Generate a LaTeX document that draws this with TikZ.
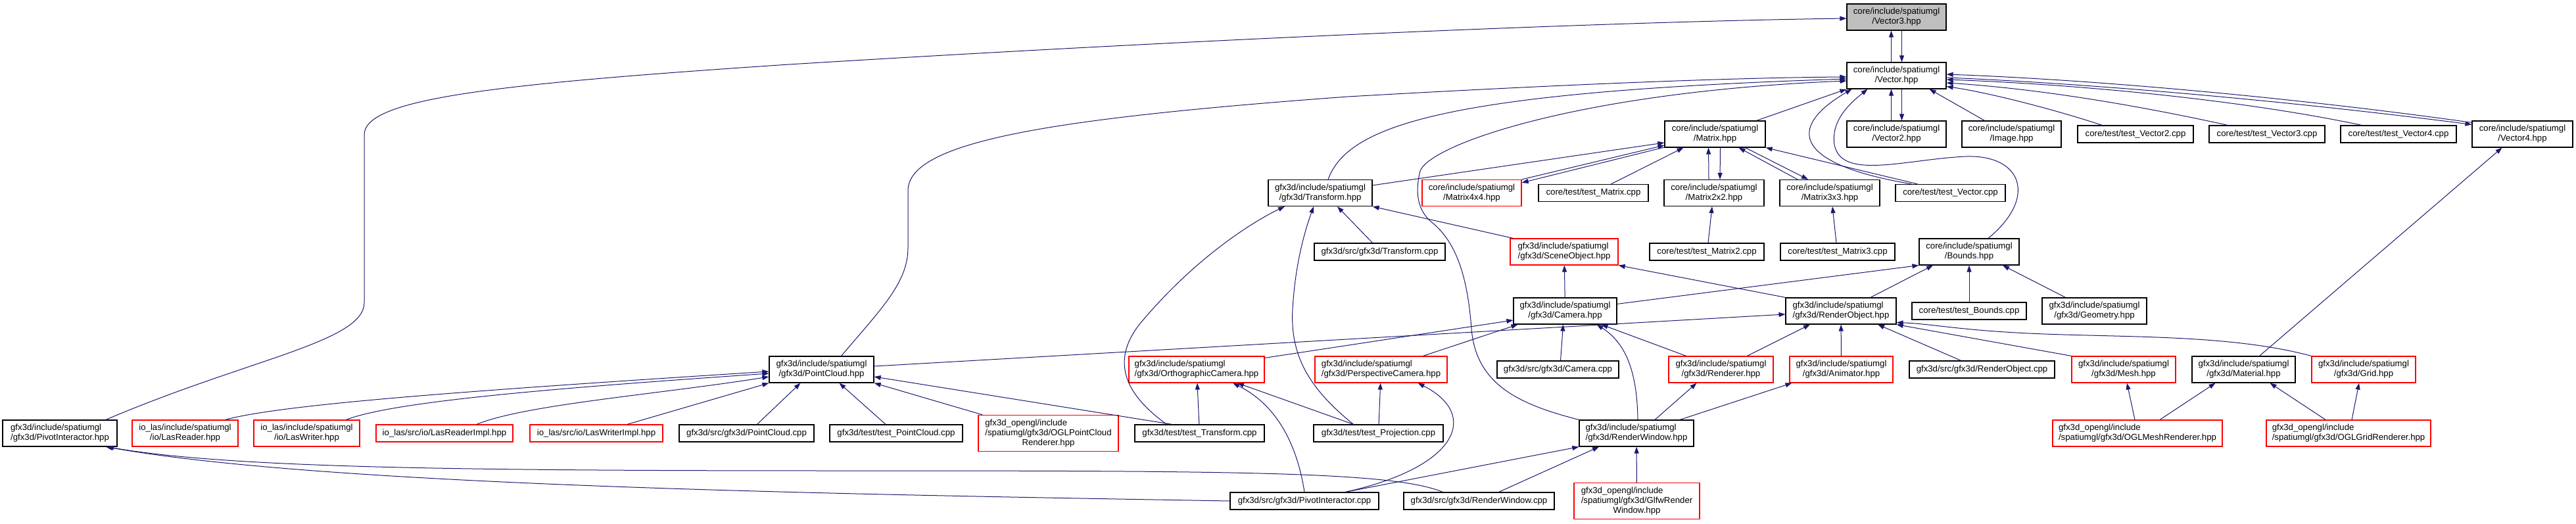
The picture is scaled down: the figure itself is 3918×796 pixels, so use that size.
\documentclass[tikz,border=0pt]{standalone}
\usepackage{xcolor}
\usepackage{fontspec}
\setmainfont{Liberation Sans}
\usepackage{tikz}
\usetikzlibrary{arrows.meta, positioning}
\definecolor{EdgeBlue}{HTML}{191970}
\definecolor{RootGray}{HTML}{BFBFBF}
\definecolor{NoDocRed}{HTML}{FF0000}
\newcommand{\fname}[2]{\begin{tabular}{@{}l@{}}#1\\\multicolumn{1}{@{}c@{}}{#2}\end{tabular}}

\begin{document}
\begin{tikzpicture}[
  x=1pt, y=-1pt,
  file/.style={rectangle, draw=black, fill=white, line width=1.2pt, inner sep=0pt,
               minimum height=40pt, font=\fontsize{13.2pt}{15pt}\selectfont},
  nodoc/.style={file, draw=NoDocRed},
  root/.style={file, fill=RootGray},
  one/.style={minimum height=26pt},
  three/.style={minimum height=55pt},
  arr/.style={-{Triangle[length=10pt,width=7pt]}, color=EdgeBlue, line width=1pt}
]
\useasboundingbox (0,0) rectangle (3918,796);

\node[root, minimum width=151pt] (vec3) at (2884.5,26) {\fname{core/include/spatiumgl}{/Vector3.hpp}};
\node[file, minimum width=151pt] (vec) at (2884.5,115) {\fname{core/include/spatiumgl}{/Vector.hpp}};

\node[file, minimum width=153pt] (mat) at (2608.5,204) {\fname{core/include/spatiumgl}{/Matrix.hpp}};
\node[file, minimum width=151pt] (vec2) at (2884.5,204) {\fname{core/include/spatiumgl}{/Vector2.hpp}};
\node[file, minimum width=151pt] (image) at (3059.5,204) {\fname{core/include/spatiumgl}{/Image.hpp}};
\node[file, one, minimum width=176pt] (tvec2) at (3248,204) {core/test/test\_Vector2.cpp};
\node[file, one, minimum width=176pt] (tvec3) at (3448,204) {core/test/test\_Vector3.cpp};
\node[file, one, minimum width=176pt] (tvec4) at (3648,204) {core/test/test\_Vector4.cpp};
\node[file, minimum width=153pt] (vec4) at (3836.5,204) {\fname{core/include/spatiumgl}{/Vector4.hpp}};

\node[file, minimum width=158pt] (trf) at (2008,293.5) {\fname{gfx3d/include/spatiumgl}{/gfx3d/Transform.hpp}};
\node[nodoc, minimum width=151pt] (mat44) at (2238.5,293.5) {\fname{core/include/spatiumgl}{/Matrix4x4.hpp}};
\node[file, one, minimum width=167pt] (tmat) at (2423.5,293.5) {core/test/test\_Matrix.cpp};
\node[file, minimum width=152pt] (mat22) at (2607,293.5) {\fname{core/include/spatiumgl}{/Matrix2x2.hpp}};
\node[file, minimum width=152pt] (mat33) at (2783,293.5) {\fname{core/include/spatiumgl}{/Matrix3x3.hpp}};
\node[file, one, minimum width=167pt] (tvec) at (2966.5,293.5) {core/test/test\_Vector.cpp};

\node[file, one, minimum width=199pt] (trfcpp) at (2098.5,383) {gfx3d/src/gfx3d/Transform.cpp};
\node[nodoc, minimum width=164pt] (sceneobj) at (2379,383) {\fname{gfx3d/include/spatiumgl}{/gfx3d/SceneObject.hpp}};
\node[file, one, minimum width=174pt] (tmat2) at (2596,383) {core/test/test\_Matrix2.cpp};
\node[file, one, minimum width=174pt] (tmat3) at (2795,383) {core/test/test\_Matrix3.cpp};
\node[file, minimum width=152pt] (bounds) at (2995,383) {\fname{core/include/spatiumgl}{/Bounds.hpp}};

\node[file, minimum width=157pt] (camera) at (2380.5,473) {\fname{gfx3d/include/spatiumgl}{/gfx3d/Camera.hpp}};
\node[file, minimum width=168pt] (renderobj) at (2800,473) {\fname{gfx3d/include/spatiumgl}{/gfx3d/RenderObject.hpp}};
\node[file, one, minimum width=174pt] (tbounds) at (2995,473) {core/test/test\_Bounds.cpp};
\node[file, minimum width=159pt] (geometry) at (3185.5,473) {\fname{gfx3d/include/spatiumgl}{/gfx3d/Geometry.hpp}};

\node[file, minimum width=159pt] (pointcloud) at (1249.5,562) {\fname{gfx3d/include/spatiumgl}{/gfx3d/PointCloud.hpp}};
\node[nodoc, minimum width=206pt] (orthocam) at (1820,562) {\fname{gfx3d/include/spatiumgl}{/gfx3d/OrthographicCamera.hpp}};
\node[nodoc, minimum width=201pt] (perspcam) at (2100.5,562) {\fname{gfx3d/include/spatiumgl}{/gfx3d/PerspectiveCamera.hpp}};
\node[file, one, minimum width=185pt] (cameracpp) at (2369.5,562) {gfx3d/src/gfx3d/Camera.cpp};
\node[nodoc, minimum width=159pt] (renderer) at (2617.5,562) {\fname{gfx3d/include/spatiumgl}{/gfx3d/Renderer.hpp}};
\node[nodoc, minimum width=157pt] (animator) at (2800.5,562) {\fname{gfx3d/include/spatiumgl}{/gfx3d/Animator.hpp}};
\node[file, one, minimum width=221pt] (renderobjcpp) at (3014.5,562) {gfx3d/src/gfx3d/RenderObject.cpp};
\node[nodoc, minimum width=158pt] (mesh) at (3230,562) {\fname{gfx3d/include/spatiumgl}{/gfx3d/Mesh.hpp}};
\node[file, minimum width=157pt] (material) at (3412.5,562) {\fname{gfx3d/include/spatiumgl}{/gfx3d/Material.hpp}};
\node[nodoc, minimum width=158pt] (grid) at (3595,562) {\fname{gfx3d/include/spatiumgl}{/gfx3d/Grid.hpp}};

\node[file, minimum width=174pt] (pivothpp) at (91,659) {\fname{gfx3d/include/spatiumgl}{/gfx3d/PivotInteractor.hpp}};
\node[nodoc, minimum width=161pt] (lasreader) at (281.5,659) {\fname{io\_las/include/spatiumgl}{/io/LasReader.hpp}};
\node[nodoc, minimum width=161pt] (laswriter) at (466.5,659) {\fname{io\_las/include/spatiumgl}{/io/LasWriter.hpp}};
\node[nodoc, one, minimum width=208pt] (lasreaderimpl) at (676,659) {io\_las/src/io/LasReaderImpl.hpp};
\node[nodoc, one, minimum width=202pt] (laswriterimpl) at (907,659) {io\_las/src/io/LasWriterImpl.hpp};
\node[file, one, minimum width=205pt] (pointcloudcpp) at (1135.5,659) {gfx3d/src/gfx3d/PointCloud.cpp};
\node[file, one, minimum width=202pt] (tpointcloud) at (1363,659) {gfx3d/test/test\_PointCloud.cpp};
\node[nodoc, three, minimum width=213pt] (oglpcrenderer) at (1594.5,659) {\fname{gfx3d\_opengl/include\\/spatiumgl/gfx3d/OGLPointCloud}{Renderer.hpp}};
\node[file, one, minimum width=197pt] (ttransform) at (1824.5,659) {gfx3d/test/test\_Transform.cpp};
\node[file, one, minimum width=197pt] (tprojection) at (2096.5,659) {gfx3d/test/test\_Projection.cpp};
\node[file, minimum width=174pt] (renderwin) at (2489,659) {\fname{gfx3d/include/spatiumgl}{/gfx3d/RenderWindow.hpp}};
\node[nodoc, minimum width=258pt] (oglmeshrenderer) at (3251,659) {\fname{gfx3d\_opengl/include}{/spatiumgl/gfx3d/OGLMeshRenderer.hpp}};
\node[nodoc, minimum width=250pt] (oglgridrenderer) at (3572,659) {\fname{gfx3d\_opengl/include}{/spatiumgl/gfx3d/OGLGridRenderer.hpp}};

\node[file, one, minimum width=226pt] (pivotcpp) at (1984,762) {gfx3d/src/gfx3d/PivotInteractor.cpp};
\node[file, one, minimum width=229pt] (renderwincpp) at (2249.5,762) {gfx3d/src/gfx3d/RenderWindow.cpp};
\node[nodoc, three, minimum width=191pt] (glfwwin) at (2489.5,762) {\fname{gfx3d\_opengl/include\\/spatiumgl/gfx3d/GlfwRender}{Window.hpp}};

\draw[arr] ([xshift=-8pt]vec.north) -- ([xshift=-8pt]vec3.south);
\draw[arr] ([xshift=8pt]vec3.south) -- ([xshift=8pt]vec.north);
\draw[arr] ([xshift=-8pt]vec2.north) -- ([xshift=-8pt]vec.south);
\draw[arr] ([xshift=8pt]vec.south) -- ([xshift=8pt]vec2.north);
\draw[arr] ([xshift=70pt]pivothpp.north) .. controls (380,545) and (554,520) .. (554,460) -- (554,205)
  .. controls (554,150) and (750,128) .. (1200,98) .. controls (1900,55) and (2500,32) .. ([yshift=-2pt]vec3.west);
\draw[arr] ([xshift=30pt]pointcloud.north) .. controls (1340,470) and (1381,430) .. (1381,377) -- (1381,290)
  .. controls (1381,215) and (1600,180) .. (2050,147) .. controls (2400,127) and (2650,118) .. ([yshift=-2pt]vec.west);
\draw[arr] ([xshift=12pt]trf.north) .. controls (2050,190) and (2200,140) .. ([yshift=-5pt]vec.west);
\draw[arr] (renderwin.north west) .. controls (2310,615) and (2245,585) .. (2238,500)
  .. controls (2232,420) and (2215,370) .. (2180,340) .. controls (2160,325) and (2150,300) .. (2160,260)
  .. controls (2175,220) and (2400,140) .. ([yshift=-8pt]vec.west);
\draw[arr] ([xshift=-14pt]mat.north east) -- (vec.south west);
\draw[arr] ([xshift=25pt]tvec.north west) .. controls (2730,250) and (2715,195) .. ([xshift=-68pt]vec.south);
\draw[arr] ([xshift=29pt]bounds.north) .. controls (3100,300) and (3075,235) .. (2990,238)
  .. controls (2900,242) and (2800,275) .. (2790,220) .. controls (2785,185) and (2810,160) .. ([xshift=-44pt]vec.south);
\draw[arr] ([xshift=-41pt]image.north) -- ([xshift=50pt]vec.south);
\draw[arr] ([xshift=-51pt]tvec2.north) .. controls (3120,165) and (3020,140) .. ([yshift=4pt]vec.south east);
\draw[arr] ([xshift=-60pt]tvec3.north) .. controls (3250,160) and (3100,135) .. ([yshift=-11pt]vec.east);
\draw[arr] ([xshift=-56pt]tvec4.north) .. controls (3400,150) and (3150,128) .. ([yshift=-6pt]vec.east);
\draw[arr] ([yshift=-3pt]vec4.north west) .. controls (3500,150) and (3200,122) .. ([yshift=2pt]vec.east);
\draw[arr] ([yshift=-3pt]vec.east) .. controls (3200,128) and (3500,156) .. ([yshift=-6pt]vec4.north west);

\draw[arr] ([yshift=-9pt]trf.north east) -- ([yshift=-13pt]mat.west);
\draw[arr] (mat44.north east) -- ([yshift=-17pt]mat.west);
\draw[arr] ([yshift=-20pt]mat.west) -- ([yshift=-5pt]mat44.north east);
\draw[arr] ([xshift=27pt]tmat.north) -- ([xshift=-48pt]mat.south);
\draw[arr] ([xshift=-8pt]mat22.north) -- ([xshift=-10pt]mat.south);
\draw[arr] ([xshift=8pt]mat.south) -- ([xshift=9pt]mat22.north);
\draw[arr] ([xshift=-49pt]mat33.north) -- ([xshift=36pt]mat.south);
\draw[arr] ([xshift=46pt]mat.south) -- ([xshift=-33pt]mat33.north);
\draw[arr] ([xshift=-50pt]tvec.north) -- (mat.south east);

\draw[arr] ([xshift=-11pt]trfcpp.north) -- ([xshift=26pt]trf.south);
\draw[arr] ([xshift=5pt]sceneobj.north west) -- (trf.south east);
\draw[arr] ([xshift=-50pt]ttransform.north) .. controls (1690,585) and (1700,530) .. (1740,485)
  .. controls (1830,380) and (1920,330) .. ([xshift=-54pt]trf.south);
\draw[arr] ([xshift=-38pt]tprojection.north) .. controls (1990,590) and (1962,540) .. (1966,470)
  .. controls (1970,400) and (1985,350) .. ([xshift=-10pt]trf.south);
\draw[arr] ([xshift=2pt]tmat2.north) -- ([xshift=-3pt]mat22.south);
\draw[arr] ([xshift=-2pt]tmat3.north) -- ([xshift=4pt]mat33.south);

\draw[arr] (camera) -- (sceneobj);
\draw[arr] (renderobj.north west) -- (sceneobj.south east);
\draw[arr] ([yshift=-10pt]camera.north east) -- (bounds.south west);
\draw[arr] ([xshift=45pt]renderobj.north) -- ([xshift=-55pt]bounds.south);
\draw[arr] (tbounds) -- (bounds);
\draw[arr] ([xshift=-44pt]geometry.north) -- ([xshift=51pt]bounds.south);

\draw[arr] ([yshift=5pt]pointcloud.east) -- ([yshift=-5pt]renderobj.west);
\draw[arr] ([xshift=40pt]renderer.north) -- ([xshift=-47pt]renderobj.south);
\draw[arr] (animator) -- (renderobj);
\draw[arr] ([xshift=-32pt]renderobjcpp.north) -- ([xshift=56pt]renderobj.south);
\draw[arr] (mesh.north west) -- (renderobj.south east);
\draw[arr] (grid.north west) .. controls (3380,505) and (3200,515) .. (3050,505)
  .. controls (2970,500) and (2930,492) .. ([yshift=3pt]renderobj.south east);
\draw[arr] ([yshift=-3pt]orthocam.north east) -- ([yshift=-14pt]camera.west);
\draw[arr] ([xshift=64pt]perspcam.north) -- ([xshift=7pt]camera.south west);
\draw[arr] ([xshift=4pt]cameracpp.north) -- ([xshift=-3pt]camera.south);
\draw[arr] ([xshift=-53pt]renderer.north) -- ([xshift=55pt]camera.south);
\draw[arr] ([xshift=2pt]renderwin.north) .. controls (2490,560) and (2470,520) .. ([xshift=48pt]camera.south);
\draw[arr] ([xshift=24pt]material.north) -- ([xshift=-31pt]vec4.south);

\draw[arr] ([xshift=61pt]lasreader.north) .. controls (430,615) and (700,595) .. ([yshift=-3pt]pointcloud.west);
\draw[arr] ([xshift=60pt]laswriter.north) .. controls (600,610) and (850,590) .. ([yshift=-6pt]pointcloud.west);
\draw[arr] ([xshift=49pt]lasreaderimpl.north) .. controls (800,615) and (1000,600) .. ([yshift=-11pt]pointcloud.west);
\draw[arr] ([xshift=47pt]laswriterimpl.north) -- (pointcloud.south west);
\draw[arr] ([xshift=16pt]pointcloudcpp.north) -- ([xshift=-32pt]pointcloud.south);
\draw[arr] ([xshift=-16pt]tpointcloud.north) -- ([xshift=27pt]pointcloud.south);
\draw[arr] ([xshift=7pt]oglpcrenderer.north west) -- (pointcloud.south east);
\draw[arr] ([xshift=-42pt]ttransform.north) -- ([yshift=-11pt]pointcloud.east);
\draw[arr] (ttransform) -- (orthocam);
\draw[arr] ([xshift=-38pt]tprojection.north) -- ([xshift=62pt]orthocam.south);
\draw[arr] (tprojection) -- (perspcam);

\draw[arr] (pivotcpp.north) .. controls (1975,690) and (1950,620) .. ([xshift=55pt]orthocam.south);
\draw[arr] ([xshift=62pt]pivotcpp.north) .. controls (2220,710) and (2250,630) .. ([xshift=56pt]perspcam.south);
\draw[arr] ([xshift=62pt]pivotcpp.north) -- (renderwin.south west);
\draw[arr] (pivotcpp.west) .. controls (1300,752) and (500,740) .. ([xshift=70pt]pivothpp.south);
\draw[arr] ([xshift=-55pt]renderwincpp.north) .. controls (2120,718) and (1900,716) .. (1300,716)
  .. controls (700,716) and (350,712) .. ([xshift=72pt]pivothpp.south);
\draw[arr] ([xshift=28pt]renderwin.north) -- ([xshift=-37pt]renderer.south);
\draw[arr] ([xshift=66pt]renderwin.north) -- ([xshift=4pt]animator.south west);
\draw[arr] ([xshift=30pt]renderwincpp.north) -- ([xshift=-57pt]renderwin.south);
\draw[arr] (glfwwin) -- (renderwin);
\draw[arr] ([xshift=-4pt]oglmeshrenderer.north) -- ([xshift=5pt]mesh.south);
\draw[arr] ([xshift=34pt]oglmeshrenderer.north) -- ([xshift=-43pt]material.south);
\draw[arr] ([xshift=-35pt]oglgridrenderer.north) -- ([xshift=40pt]material.south);
\draw[arr] ([xshift=5pt]oglgridrenderer.north) -- ([xshift=-7pt]grid.south);

\end{tikzpicture}
\end{document}
